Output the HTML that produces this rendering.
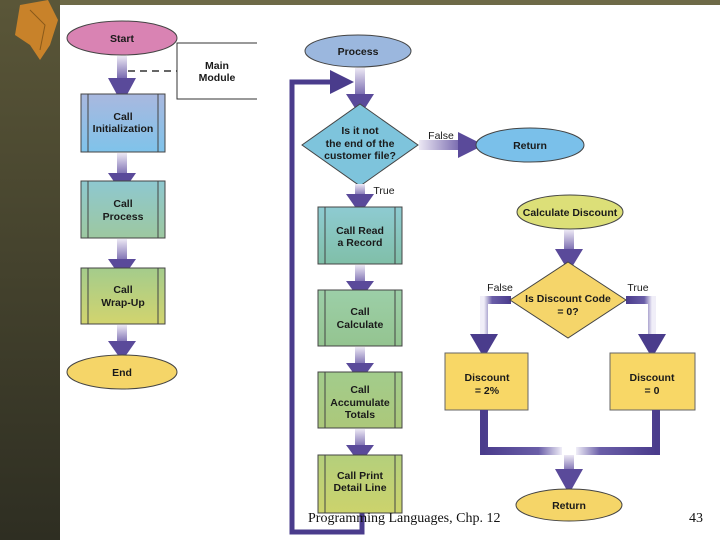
<!DOCTYPE html>
<html><head><meta charset="utf-8"><style>
html,body{margin:0;padding:0;width:720px;height:540px;overflow:hidden;background:#fff}
svg{display:block}
text{font-family:"Liberation Sans",Arial,sans-serif;font-weight:bold;font-size:10.5px;fill:#1a1a1a;text-anchor:middle}
.ft{font-family:"Liberation Serif",serif;font-weight:normal;font-size:14px;text-anchor:start;fill:#111}
.lb{font-weight:normal}
</style></head><body>
<svg width="720" height="540" viewBox="0 0 720 540">
<defs>
<linearGradient id="side" x1="0" y1="0" x2="0" y2="1"><stop offset="0" stop-color="#5a5638"/><stop offset="1" stop-color="#2e2e22"/></linearGradient>
<linearGradient id="shaft" x1="0" y1="0" x2="0" y2="1"><stop offset="0" stop-color="#ece8f4"/><stop offset="1" stop-color="#7a6cb0"/></linearGradient>
<linearGradient id="shaftH" x1="0" y1="0" x2="1" y2="0"><stop offset="0" stop-color="#ece8f4"/><stop offset="1" stop-color="#7a6cb0"/></linearGradient>
<linearGradient id="gL" x1="0" y1="0" x2="1" y2="0"><stop offset="0" stop-color="#4a3c8c"/><stop offset="0.7" stop-color="#6a5ea8"/><stop offset="1" stop-color="#f0eef8"/></linearGradient>
<linearGradient id="gR" x1="1" y1="0" x2="0" y2="0"><stop offset="0" stop-color="#4a3c8c"/><stop offset="0.7" stop-color="#6a5ea8"/><stop offset="1" stop-color="#f0eef8"/></linearGradient>
<linearGradient id="bInit" x1="0" y1="0" x2="0" y2="1"><stop offset="0" stop-color="#a9b8df"/><stop offset="1" stop-color="#7fc3ea"/></linearGradient>
<linearGradient id="bProc" x1="0" y1="0" x2="0" y2="1"><stop offset="0" stop-color="#8ec8d0"/><stop offset="1" stop-color="#9dc8a0"/></linearGradient>
<linearGradient id="bWrap" x1="0" y1="0" x2="0" y2="1"><stop offset="0" stop-color="#a4cc8c"/><stop offset="1" stop-color="#d2d46e"/></linearGradient>
<linearGradient id="bRead" x1="0" y1="0" x2="0" y2="1"><stop offset="0" stop-color="#8ecbd2"/><stop offset="1" stop-color="#80bfa8"/></linearGradient>
<linearGradient id="bCalc" x1="0" y1="0" x2="0" y2="1"><stop offset="0" stop-color="#9ccfa8"/><stop offset="1" stop-color="#94c490"/></linearGradient>
<linearGradient id="bAcc" x1="0" y1="0" x2="0" y2="1"><stop offset="0" stop-color="#a2cc8c"/><stop offset="1" stop-color="#acc87a"/></linearGradient>
<linearGradient id="bPrt" x1="0" y1="0" x2="0" y2="1"><stop offset="0" stop-color="#b4cf7c"/><stop offset="1" stop-color="#ccd36c"/></linearGradient>
</defs>
<rect x="0" y="0" width="720" height="540" fill="#fff"/>
<rect x="0" y="0" width="60" height="540" fill="url(#side)"/>
<rect x="60" y="0" width="660" height="5" fill="#6e6a48"/>
<path d="M20 5 L48 0 L58 20 L50 45 L40 60 L30 45 L15 35 Z" fill="#c8822a"/>
<path d="M30 10 L45 25 L40 50" stroke="#8a5a1a" fill="none"/>

<ellipse cx="122" cy="38" rx="55" ry="17" fill="#d983b3" stroke="#444" stroke-width="1"/>
<text x="122" y="42">Start</text>
<path d="M257 43 H177 V99 H257" fill="none" stroke="#333"/>
<text x="217" y="69">Main</text><text x="217" y="81">Module</text>
<line x1="128" y1="71" x2="177" y2="71" stroke="#333" stroke-dasharray="7,5" stroke-width="1.5"/>

<rect x="117" y="56" width="10" height="22" fill="url(#shaft)"/><polygon points="108,78 136,78 122,104" fill="#5a4a9a"/>
<rect x="117" y="153" width="10" height="22" fill="url(#shaft)"/><polygon points="108,173 136,173 122,193" fill="#5a4a9a"/>
<rect x="117" y="239" width="10" height="22" fill="url(#shaft)"/><polygon points="108,259 136,259 122,279" fill="#5a4a9a"/>
<rect x="117" y="325" width="10" height="18" fill="url(#shaft)"/><polygon points="108,341 136,341 122,361" fill="#5a4a9a"/>

<rect x="81" y="94" width="84" height="58" fill="url(#bInit)" stroke="#444"/>
<line x1="88" y1="94" x2="88" y2="152" stroke="#444"/><line x1="158" y1="94" x2="158" y2="152" stroke="#444"/>
<text x="123" y="120">Call</text><text x="123" y="132">Initialization</text>

<rect x="81" y="181" width="84" height="57" fill="url(#bProc)" stroke="#444"/>
<line x1="88" y1="181" x2="88" y2="238" stroke="#444"/><line x1="158" y1="181" x2="158" y2="238" stroke="#444"/>
<text x="123" y="207">Call</text><text x="123" y="220">Process</text>

<rect x="81" y="268" width="84" height="56" fill="url(#bWrap)" stroke="#444"/>
<line x1="88" y1="268" x2="88" y2="324" stroke="#444"/><line x1="158" y1="268" x2="158" y2="324" stroke="#444"/>
<text x="123" y="293">Call</text><text x="123" y="306">Wrap-Up</text>

<ellipse cx="122" cy="372" rx="55" ry="17" fill="#f5d568" stroke="#444"/>
<text x="122" y="376">End</text>

<path d="M362 513 V532 H292 V82 H330" fill="none" stroke="#4a3c8c" stroke-width="5"/>
<polygon points="330,70 330,94 354,82" fill="#4a3c8c"/>

<ellipse cx="358" cy="51" rx="53" ry="16" fill="#9bb7de" stroke="#444"/>
<text x="358" y="55">Process</text>
<rect x="355" y="68" width="10" height="27" fill="url(#shaft)"/><polygon points="346,94 374,94 360,116" fill="#5a4a9a"/>

<polygon points="360,104 418,145 360,186 302,145" fill="#7ec4dc" stroke="#444"/>
<text x="360" y="134">Is it not</text><text x="360" y="147">the end of the</text><text x="360" y="159">customer file?</text>

<rect x="419" y="140" width="40" height="10" fill="url(#shaftH)"/><polygon points="458,132 458,158 484,145" fill="#5a4a9a"/>
<text class="lb" x="441" y="139">False</text>
<ellipse cx="530" cy="145" rx="54" ry="17" fill="#7ac0ea" stroke="#444"/>
<text x="530" y="149">Return</text>

<rect x="355" y="184" width="10" height="12" fill="url(#shaft)"/><polygon points="346,194 374,194 360,214" fill="#5a4a9a"/>
<text class="lb" x="384" y="194">True</text>

<rect x="318" y="207" width="84" height="57" fill="url(#bRead)" stroke="#444"/>
<line x1="325" y1="207" x2="325" y2="264" stroke="#444"/><line x1="395" y1="207" x2="395" y2="264" stroke="#444"/>
<text x="360" y="234">Call Read</text><text x="360" y="246">a Record</text>

<rect x="355" y="265" width="10" height="18" fill="url(#shaft)"/><polygon points="346,281 374,281 360,300" fill="#5a4a9a"/>
<rect x="318" y="290" width="84" height="56" fill="url(#bCalc)" stroke="#444"/>
<line x1="325" y1="290" x2="325" y2="346" stroke="#444"/><line x1="395" y1="290" x2="395" y2="346" stroke="#444"/>
<text x="360" y="315">Call</text><text x="360" y="328">Calculate</text>

<rect x="355" y="347" width="10" height="18" fill="url(#shaft)"/><polygon points="346,363 374,363 360,382" fill="#5a4a9a"/>
<rect x="318" y="372" width="84" height="56" fill="url(#bAcc)" stroke="#444"/>
<line x1="325" y1="372" x2="325" y2="428" stroke="#444"/><line x1="395" y1="372" x2="395" y2="428" stroke="#444"/>
<text x="360" y="393">Call</text><text x="360" y="406">Accumulate</text><text x="360" y="418">Totals</text>

<rect x="355" y="429" width="10" height="18" fill="url(#shaft)"/><polygon points="346,445 374,445 360,464" fill="#5a4a9a"/>
<rect x="318" y="455" width="84" height="58" fill="url(#bPrt)" stroke="#444"/>
<line x1="325" y1="455" x2="325" y2="513" stroke="#444"/><line x1="395" y1="455" x2="395" y2="513" stroke="#444"/>
<text x="360" y="479">Call Print</text><text x="360" y="491">Detail Line</text>

<ellipse cx="570" cy="212" rx="53" ry="17" fill="#dcdf78" stroke="#444"/>
<text x="570" y="216">Calculate Discount</text>
<rect x="564" y="230" width="10" height="20" fill="url(#shaft)"/><polygon points="555,249 583,249 569,272" fill="#5a4a9a"/>

<path d="M511 300 H484 V336" fill="none" stroke="url(#gR)" stroke-width="8"/>
<path d="M626 300 H652 V336" fill="none" stroke="url(#gL)" stroke-width="8"/>
<polygon points="470,334 498,334 484,358" fill="#4a3c8c"/>
<polygon points="638,334 666,334 652,358" fill="#4a3c8c"/>
<text class="lb" x="500" y="291">False</text><text class="lb" x="638" y="291">True</text>

<polygon points="568,262 626,300 568,338 510,300" fill="#f5d56a" stroke="#444"/>
<text x="568" y="302">Is Discount Code</text><text x="568" y="315">= 0?</text>

<rect x="445" y="353" width="83" height="57" fill="#f8d766" stroke="#666"/>
<text x="487" y="381">Discount</text><text x="487" y="394">= 2%</text>
<rect x="610" y="353" width="85" height="57" fill="#f8d766" stroke="#666"/>
<text x="652" y="381">Discount</text><text x="652" y="394">= 0</text>

<path d="M484 410 V451 H562" fill="none" stroke="url(#gL)" stroke-width="8"/>
<path d="M656 410 V451 H576" fill="none" stroke="url(#gR)" stroke-width="8"/>
<rect x="564" y="455" width="10" height="16" fill="url(#shaft)"/><polygon points="555,469 583,469 569,494" fill="#5a4a9a"/>
<ellipse cx="569" cy="505" rx="53" ry="16" fill="#f5d568" stroke="#444"/>
<text x="569" y="509">Return</text>

<text class="ft" x="308" y="522">Programming Languages, Chp. 12</text>
<text class="ft" x="689" y="522">43</text>
</svg>
</body></html>
